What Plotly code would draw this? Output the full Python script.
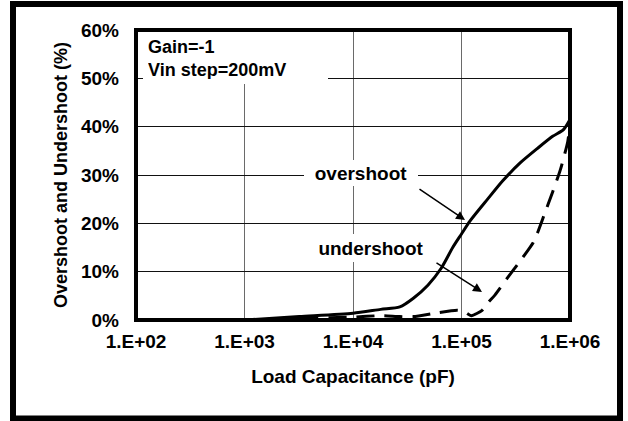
import plotly.graph_objects as go

# ---------------- data ----------------
over_cap = [1000, 3200, 10000, 18000, 27000, 36000, 49000, 65000, 83000,
            100000, 120000, 174000, 240000, 347000, 501000, 692000, 871000, 1000000]
over_pct = [0.0, 0.7, 1.4, 2.2, 2.7, 4.5, 7.2, 10.7, 15.0,
            17.8, 20.5, 25.0, 28.8, 32.5, 35.5, 38.0, 39.4, 41.5]

under_cap = [1000, 3200, 10000, 18000, 27000, 36000, 60000, 91000, 105000,
             123000, 155000, 174000, 204000, 263000, 347000, 457000, 501000,
             562000, 692000, 813000, 955000, 1000000]
under_pct = [0.0, 0.3, 0.6, 0.9, 0.7, 0.7, 1.5, 2.0, 1.8,
             0.9, 2.0, 3.5, 5.2, 8.6, 12.2, 16.0, 18.0,
             21.0, 26.5, 31.0, 37.0, 41.0]

x_tickvals = [100, 1000, 10000, 100000, 1000000]
x_ticktext = ["1.E+02", "1.E+03", "1.E+04", "1.E+05", "1.E+06"]
y_tickvals = [0, 10, 20, 30, 40, 50, 60]
y_ticktext = ["0%", "10%", "20%", "30%", "40%", "50%", "60%"]

# ---------------- layout geometry ----------------
W, H = 628, 421
L, R, T, B = 136, 58, 30, 101
PW, PH = W - L - R, H - T - B
XMIN, XMAX = 2, 6
YMIN, YMAX = 0, 60

def dx(px):
    return XMIN + (px - L) / PW * (XMAX - XMIN)

def dy(py):
    return YMIN + (T + PH - py) / PH * (YMAX - YMIN)

def pxp(px):
    return (px - L) / PW

def pyp(py):
    return (T + PH - py) / PH

FONT = "Liberation Sans, Arial, sans-serif"
BOLD = lambda s: dict(family=FONT, size=s, color="black", weight="bold")

fig = go.Figure()
fig.add_trace(go.Scatter(x=over_cap, y=over_pct, mode="lines",
                         line=dict(color="black", width=3, shape="spline", smoothing=0.7),
                         name="overshoot", showlegend=False))
fig.add_trace(go.Scatter(x=under_cap, y=under_pct, mode="lines",
                         line=dict(color="black", width=3, dash="18px,10px", shape="spline", smoothing=0.6),
                         name="undershoot", showlegend=False))

shapes = [
    # plot frame
    dict(type="rect", xref="paper", yref="paper", x0=0, x1=1, y0=0, y1=1,
         line=dict(color="black", width=4), layer="above"),
    # outer border
    dict(type="rect", xref="paper", yref="paper",
         x0=pxp(13), x1=pxp(620), y0=pyp(418.5), y1=pyp(4),
         line=dict(color="black", width=6), layer="above"),
]

def label_box(text, x0, y0, x1, y1, size, align="center", valign="middle", pad=0):
    return dict(x=pxp(x0), y=pyp(y0), xref="paper", yref="paper",
                xanchor="left", yanchor="top",
                width=x1 - x0 - 2 * pad, height=y1 - y0 - 2 * pad,
                text=text, showarrow=False, align=align, valign=valign,
                bgcolor="white", borderpad=pad, borderwidth=0, font=BOLD(size))

annotations = [
    label_box("Gain=-1<br>Vin step=200mV", 143, 32, 328, 84, 18,
              align="left", valign="top", pad=5),
    label_box("overshoot", 304, 160, 418, 186, 19),
    label_box("undershoot", 310, 234, 432, 262, 19),
    dict(x=dx(465), y=dy(220), xref="x", yref="y", text="", showarrow=True,
         ax=418 - 465, ay=188 - 220, axref="pixel", ayref="pixel",
         arrowhead=2, arrowsize=1.2, arrowwidth=1.5, arrowcolor="black", standoff=0),
    dict(x=dx(482), y=dy(292), xref="x", yref="y", text="", showarrow=True,
         ax=435 - 482, ay=262 - 292, axref="pixel", ayref="pixel",
         arrowhead=2, arrowsize=1.2, arrowwidth=1.5, arrowcolor="black", standoff=0),
]

fig.update_layout(
    width=W, height=H,
    margin=dict(l=L, r=R, t=T, b=B, pad=0),
    paper_bgcolor="white", plot_bgcolor="white",
    shapes=shapes, annotations=annotations,
    font=dict(family=FONT, color="black"),
    xaxis=dict(type="log", range=[XMIN, XMAX], tickvals=x_tickvals, ticktext=x_ticktext,
               showgrid=True, gridcolor="#6a6a6a", gridwidth=1, zeroline=False,
               showline=False, ticks="", ticklabelstandoff=8,
               tickfont=BOLD(19),
               title=dict(text="Load Capacitance (pF)", standoff=18, font=BOLD(19))),
    yaxis=dict(range=[YMIN, YMAX], tickvals=y_tickvals, ticktext=y_ticktext,
               showgrid=True, gridcolor="#111111", gridwidth=1, zeroline=False,
               showline=False, ticks="", ticklabelstandoff=16,
               tickfont=BOLD(19),
               title=dict(text="Overshoot and Undershoot (%)", standoff=8, font=BOLD(18))),
)

fig.write_html("out.html", config={"displayModeBar": False},
               post_script="document.body.style.margin='0';document.body.style.padding='0';")
